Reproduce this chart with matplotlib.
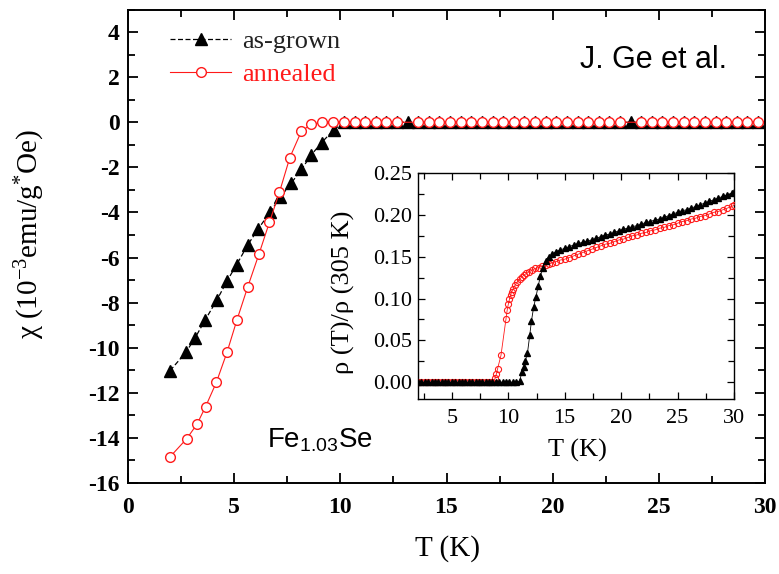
import matplotlib
matplotlib.use("Agg")
import matplotlib.pyplot as plt
from matplotlib.ticker import MultipleLocator

plt.rcParams["font.family"] = ["Liberation Serif", "DejaVu Serif"]
plt.rcParams["axes.unicode_minus"] = False
plt.rcParams["mathtext.fontset"] = "custom"
plt.rcParams["mathtext.rm"] = "Liberation Serif"
plt.rcParams["mathtext.sf"] = "Liberation Sans"
plt.rcParams["mathtext.it"] = "Liberation Serif:italic"

# ---------------- magnetic susceptibility (main panel) ----------------
T_asgrown = [1.98, 2.73, 3.15, 3.64, 4.19, 4.66, 5.12, 5.64, 6.14, 6.69, 7.18,
             7.69, 8.17, 8.64, 9.12, 9.70,
             10.17, 10.67, 11.17, 11.67, 12.17, 12.67, 13.17, 13.67, 14.17, 14.67,
             15.17, 15.67, 16.17, 16.67, 17.17, 17.67, 18.17, 18.67, 19.17, 19.67,
             20.17, 20.67, 21.17, 21.67, 22.17, 22.67, 23.17, 23.67, 24.17, 24.67,
             25.17, 25.67, 26.17, 26.67, 27.17, 27.67, 28.17, 28.67, 29.17, 29.67]
chi_asgrown = [-11.02, -10.20, -9.58, -8.76, -7.88, -7.05, -6.31, -5.44, -4.72,
               -3.99, -3.32, -2.70, -2.09, -1.44, -0.90, -0.33,
               0.0, 0.0, 0.0, 0.0, 0.0, 0.0, 0.0, 0.0, 0.0, 0.0,
               0.0, 0.0, 0.0, 0.0, 0.0, 0.0, 0.0, 0.0, 0.0, 0.0,
               0.0, 0.0, 0.0, 0.0, 0.0, 0.0, 0.0, 0.0, 0.0, 0.0,
               0.0, 0.0, 0.0, 0.0, 0.0, 0.0, 0.0, 0.0, 0.0, 0.0]

T_annealed = [1.98, 2.77, 3.25, 3.65, 4.16, 4.66, 5.13, 5.64, 6.17, 6.66, 7.13,
              7.62, 8.17, 8.64, 9.15, 9.66,
              10.17, 10.67, 11.17, 11.67, 12.17, 12.67, 13.67, 14.17, 14.67,
              15.17, 15.67, 16.17, 16.67, 17.17, 17.67, 18.17, 18.67, 19.17, 19.67,
              20.17, 20.67, 21.17, 21.67, 22.17, 22.67, 23.17, 24.17, 24.67,
              25.17, 25.67, 26.17, 26.67, 27.17, 27.67, 28.17, 28.67, 29.17, 29.67]
chi_annealed = [-14.84, -14.03, -13.39, -12.62, -11.54, -10.21, -8.77, -7.30,
                -5.84, -4.44, -3.11, -1.57, -0.39, -0.09, 0.0, 0.0,
                0.0, 0.0, 0.0, 0.0, 0.0, 0.0, 0.0, 0.0, 0.0,
                0.0, 0.0, 0.0, 0.0, 0.0, 0.0, 0.0, 0.0, 0.0, 0.0,
                0.0, 0.0, 0.0, 0.0, 0.0, 0.0, 0.0, 0.0, 0.0,
                0.0, 0.0, 0.0, 0.0, 0.0, 0.0, 0.0, 0.0, 0.0, 0.0]

# ---------------- normalised resistivity (inset) ----------------
Tr_asgrown = [2.0, 2.3, 2.6, 2.9, 3.2, 3.5, 3.8, 4.1, 4.4, 4.7, 5.0, 5.3, 5.6,
              5.9, 6.2, 6.5, 6.8, 7.1, 7.4, 7.7, 8.0, 8.3, 8.6, 8.9, 9.2, 9.5,
              9.8, 10.1, 10.4, 10.7, 11.0,
              11.2, 11.35, 11.5, 11.7, 11.9, 12.05, 12.25, 12.45, 12.65, 12.85,
              13.05, 13.3, 13.6, 13.9, 14.2, 14.6, 15.0, 15.4, 15.8,
              16.2, 16.6, 17.0, 17.4, 17.8, 18.2, 18.6, 19.0, 19.4, 19.8, 20.2,
              20.6, 21.0, 21.4, 21.8, 22.2, 22.6, 23.0, 23.4, 23.8, 24.2, 24.6,
              25.0, 25.4, 25.8, 26.2, 26.6, 27.0, 27.4, 27.8, 28.2, 28.6, 29.0,
              29.4, 29.8, 30.0]
rho_asgrown = [0.0, 0.0, 0.0, 0.0, 0.0, 0.0, 0.0, 0.0, 0.0, 0.0, 0.0, 0.0, 0.0,
               0.0, 0.0, 0.0, 0.0, 0.0, 0.0, 0.0, 0.0, 0.0, 0.0, 0.0, 0.0, 0.0,
               0.0, 0.0, 0.0, 0.0, 0.001,
               0.012, 0.018, 0.025, 0.035, 0.056, 0.073, 0.090, 0.102, 0.115, 0.127,
               0.137, 0.145, 0.150, 0.153, 0.156, 0.158, 0.160, 0.162, 0.164,
               0.166, 0.167, 0.169, 0.170, 0.172, 0.174, 0.176, 0.177, 0.179, 0.181,
               0.183, 0.184, 0.186, 0.187, 0.189, 0.191, 0.192, 0.194, 0.195, 0.197,
               0.199, 0.201, 0.203, 0.205, 0.206, 0.208, 0.210, 0.212, 0.214, 0.216,
               0.218, 0.220, 0.222, 0.224, 0.226, 0.227]

Tr_annealed = [2.0, 2.3, 2.6, 2.9, 3.2, 3.5, 3.8, 4.1, 4.4, 4.7, 5.0, 5.3, 5.6,
               5.9, 6.2, 6.5, 6.8, 7.1, 7.4, 7.7, 8.0, 8.3, 8.6,
               8.85, 8.95, 9.05, 9.35, 9.8, 9.9, 10.0, 10.1, 10.2, 10.3, 10.45,
               10.6, 10.8, 11.0, 11.2, 11.4, 11.6, 11.85, 12.1, 12.4, 12.7, 13.0,
               13.3, 13.6, 13.9, 14.2, 14.6, 15.0,
               15.4, 15.8, 16.2, 16.6, 17.0, 17.4, 17.8, 18.2, 18.6, 19.0, 19.4,
               19.8, 20.2, 20.6, 21.0, 21.4, 21.8, 22.2, 22.6, 23.0, 23.4, 23.8,
               24.2, 24.6, 25.0, 25.4, 25.8, 26.2, 26.6, 27.0, 27.4, 27.8, 28.2,
               28.6, 29.0, 29.4, 29.8, 30.0]
rho_annealed = [0.0, 0.0, 0.0, 0.0, 0.0, 0.0, 0.0, 0.0, 0.0, 0.0, 0.0, 0.0, 0.0,
                0.0, 0.0, 0.0, 0.0, 0.0, 0.0, 0.0, 0.0, 0.0, 0.0,
                0.005, 0.010, 0.016, 0.032, 0.076, 0.086, 0.093, 0.099, 0.104,
                0.108, 0.112, 0.116, 0.120, 0.123, 0.126, 0.128, 0.130, 0.132,
                0.134, 0.136, 0.137, 0.139, 0.140, 0.141, 0.143, 0.144, 0.146, 0.147,
                0.149, 0.151, 0.153, 0.155, 0.157, 0.159, 0.161, 0.163, 0.165, 0.166,
                0.168, 0.170, 0.171, 0.173, 0.175, 0.176, 0.178, 0.179, 0.181, 0.182,
                0.184, 0.185, 0.187, 0.188, 0.190, 0.192, 0.193, 0.195, 0.196, 0.198,
                0.199, 0.201, 0.203, 0.204, 0.206, 0.208, 0.210, 0.2115]

RED = "#ff1a1a"
W, H = 779, 574


def fx(px):
    return px / W


def fy(py):
    return 1 - py / H


fig = plt.figure(figsize=(W / 100, H / 100), dpi=100)

# main axes
ax = fig.add_axes([fx(128), fy(483), (765 - 128) / W, (483 - 9.5) / H])
ax.plot(T_asgrown, chi_asgrown, color="black", ls=(0, (4, 2)), lw=0.9,
        marker="^", ms=8.5, mfc="black", mec="black", zorder=3, label="as-grown")
ax.plot(T_annealed, chi_annealed, color=RED, ls="-", lw=0.8,
        marker="o", ms=7, mfc="white", mec=RED, mew=1.0, zorder=4, label="annealed")

ax.set_xlim(0, 30)
ax.set_ylim(-16, 5)
ax.xaxis.set_major_locator(MultipleLocator(5))
ax.xaxis.set_minor_locator(MultipleLocator(2.5))
ax.yaxis.set_minor_locator(MultipleLocator(1))
ax.set_yticks(range(-16, 5, 2))
ax.tick_params(which="both", direction="in", top=True, right=True, width=1.3)
ax.tick_params(which="major", length=7)
ax.tick_params(which="minor", length=5)
ax.tick_params(axis="x", pad=10)
ax.tick_params(axis="y", pad=6)
for lab in ax.get_xticklabels() + ax.get_yticklabels():
    lab.set_fontweight("bold")
    lab.set_fontsize(17)
for s in ax.spines.values():
    s.set_linewidth(1.4)

leg = ax.legend(loc="upper left", bbox_to_anchor=(0.05, 0.98), frameon=False,
                fontsize=19, handlelength=2.3, handletextpad=0.4,
                labelspacing=0.38, borderaxespad=0.0, numpoints=1,
                labelcolor=["#222222", RED])

fig.text(fx(30), fy(234), "χ (10$^{-3}$emu/g$^{*}$Oe)", rotation=90,
         ha="center", va="center", fontsize=21)
fig.text(fx(447), fy(549), "T (K)", ha="center", va="center", fontsize=21)
fig.text(fx(653), fy(60), "J. Ge et al.", ha="center", va="center",
         fontsize=22, family="Liberation Sans")
fig.text(fx(320), fy(447), r"$\mathsf{Fe_{1.03}Se}$", ha="center", va="baseline",
         fontsize=20)

# inset axes
ins = fig.add_axes([fx(418), fy(399), (734 - 418) / W, (399 - 173) / H])
ins.plot(Tr_annealed, rho_annealed, color=RED, lw=0.6, marker="o", ms=4.4,
         mfc="none", mec=RED, mew=0.8, zorder=3)
ins.plot(Tr_asgrown, rho_asgrown, color="black", lw=0.6, marker="^", ms=4.6,
         mfc="black", mec="black", zorder=4)
ins.set_xlim(2, 30)
ins.set_ylim(-0.02, 0.25)
ins.xaxis.set_major_locator(MultipleLocator(5))
ins.xaxis.set_minor_locator(MultipleLocator(2.5))
ins.yaxis.set_major_locator(MultipleLocator(0.05))
ins.yaxis.set_minor_locator(MultipleLocator(0.025))
ins.yaxis.set_major_formatter(plt.FormatStrFormatter("%.2f"))
ins.tick_params(which="both", direction="in", top=True, right=True, width=0.9,
                labelsize=16)
ins.tick_params(which="major", length=5)
ins.tick_params(which="minor", length=4)
ins.tick_params(axis="x", pad=7)
ins.tick_params(axis="y", pad=4)
for s in ins.spines.values():
    s.set_linewidth(1.0)

fig.text(fx(343), fy(292), "ρ (T)/ρ (305 K)", rotation=90, ha="center",
         va="center", fontsize=19)
fig.text(fx(577), fy(450), "T (K)", ha="center", va="center", fontsize=19)

fig.savefig("out.png", dpi=100)
